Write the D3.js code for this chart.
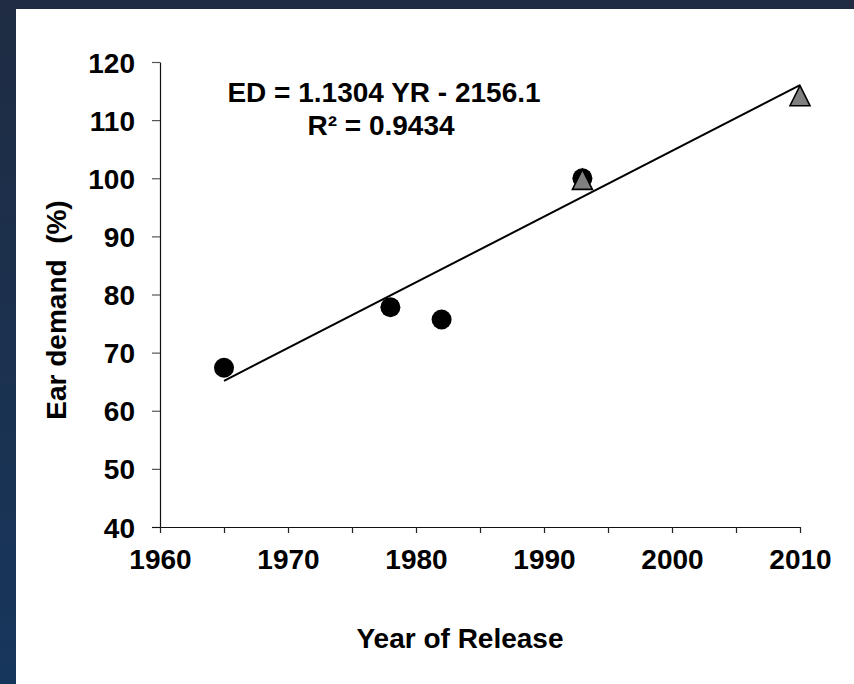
<!DOCTYPE html>
<html>
<head>
<meta charset="utf-8">
<script src="https://cdn.jsdelivr.net/npm/d3@7"></script>
<style>
  html, body { margin: 0; padding: 0; background: #ffffff; }
  svg { display: block; font-family: "Liberation Sans", Arial, sans-serif; }
</style>
</head>
<body>
<svg id="chart" width="854" height="684"></svg>
<script>
// Cultivar release year vs. ear demand
const circleYears  = [1965, 1978, 1982, 1993];
const circleValues = [67.4, 77.8, 75.7, 100.0];
const triangleYears  = [1993, 2010];
const triangleValues = [99.8, 114.2];

// Fitted line: ED = slope * YR + intercept
const fitCoef = [1.1304, -2156.1];
const fitRange = [1965, 2010];
const fitLabel = ["ED = 1.1304 YR - 2156.1", "R\u00B2 = 0.9434"];

const xTicks = [1960, 1965, 1970, 1975, 1980, 1985, 1990, 1995, 2000, 2005, 2010];
const yTicks = [40, 50, 60, 70, 80, 90, 100, 110, 120];

const svg = d3.select("#chart");
const W = 854, H = 684;
const FONT = 28;

// Slide frame
const defs = svg.append("defs");
const grad = defs.append("linearGradient").attr("id", "sideGrad")
  .attr("x1", 0).attr("y1", 0).attr("x2", 0).attr("y2", 1);
grad.append("stop").attr("offset", "0%").attr("stop-color", "#1f2c42");
grad.append("stop").attr("offset", "100%").attr("stop-color", "#17365c");
svg.append("rect").attr("x", 0).attr("y", 0).attr("width", W).attr("height", H).attr("fill", "url(#sideGrad)");
svg.append("rect").attr("x", 0).attr("y", 0).attr("width", W).attr("height", 9).attr("fill", "#1f2c42");
svg.append("rect").attr("x", 16).attr("y", 9).attr("width", W - 16).attr("height", H - 9).attr("fill", "#ffffff");

const x = d3.scaleLinear().domain([1960, 2010]).range([160, 800]);
const y = d3.scaleLinear().domain([40, 120]).range([527, 62]);

// Y axis
const yAxis = svg.append("g").attr("transform", "translate(160,0)")
  .call(d3.axisLeft(y).tickValues(yTicks).tickSize(8).tickSizeOuter(0).tickPadding(17));
yAxis.select(".domain").attr("stroke", "#111").attr("stroke-width", 1.2);
yAxis.selectAll(".tick line").attr("stroke", "#555").attr("stroke-width", 1.2);
yAxis.selectAll(".tick text")
  .attr("font-family", "Liberation Sans, Arial, sans-serif")
  .attr("font-size", FONT).attr("font-weight", "bold").attr("fill", "#000")
  .attr("dy", "0.36em");

// X axis
const xAxis = svg.append("g").attr("transform", "translate(0,527)")
  .call(d3.axisBottom(x).tickValues(xTicks).tickSize(6).tickSizeOuter(0).tickPadding(16)
    .tickFormat(d => d % 10 === 0 ? String(d) : ""));
xAxis.select(".domain").attr("stroke", "#111").attr("stroke-width", 1.2).attr("d", "M152,0.5H800");
xAxis.selectAll(".tick line").attr("stroke", "#222").attr("stroke-width", 1.2);
xAxis.selectAll(".tick text")
  .attr("font-family", "Liberation Sans, Arial, sans-serif")
  .attr("font-size", FONT).attr("font-weight", "bold").attr("fill", "#000");

// Axis titles
svg.append("text")
  .attr("x", 460).attr("y", 648)
  .attr("text-anchor", "middle")
  .attr("font-size", FONT).attr("font-weight", "bold")
  .text("Year of Release");

svg.append("text")
  .attr("transform", "translate(66,310) rotate(-90)")
  .attr("text-anchor", "middle")
  .attr("font-size", FONT).attr("font-weight", "bold")
  .style("white-space", "pre")
  .text("Ear demand  (%)");

// Regression line
const fitData = fitRange.map(yr => ({ yr, v: fitCoef[0] * yr + fitCoef[1] }));
svg.append("path")
  .datum(fitData)
  .attr("fill", "none").attr("stroke", "#000").attr("stroke-width", 2)
  .attr("d", d3.line().x(d => x(d.yr)).y(d => y(d.v)));

// Circle series
svg.append("g").selectAll("circle")
  .data(circleYears.map((yr, i) => ({ yr, v: circleValues[i] })))
  .join("circle")
  .attr("cx", d => x(d.yr)).attr("cy", d => y(d.v))
  .attr("r", 10).attr("fill", "#000");

// Triangle series
const triangle = "M0,-10L10,10L-10,10Z";
svg.append("g").selectAll("path")
  .data(triangleYears.map((yr, i) => ({ yr, v: triangleValues[i] })))
  .join("path")
  .attr("transform", d => `translate(${x(d.yr)},${y(d.v)})`)
  .attr("d", triangle)
  .attr("fill", "#808080").attr("stroke", "#000").attr("stroke-width", 1.6)
  .attr("stroke-linejoin", "miter");

// Equation label
svg.append("text").attr("x", 384).attr("y", 102).attr("text-anchor", "middle")
  .attr("font-size", FONT).attr("font-weight", "bold").text(fitLabel[0]);
svg.append("text").attr("x", 381).attr("y", 135).attr("text-anchor", "middle")
  .attr("font-size", FONT).attr("font-weight", "bold").text(fitLabel[1]);
</script>
</body>
</html>
